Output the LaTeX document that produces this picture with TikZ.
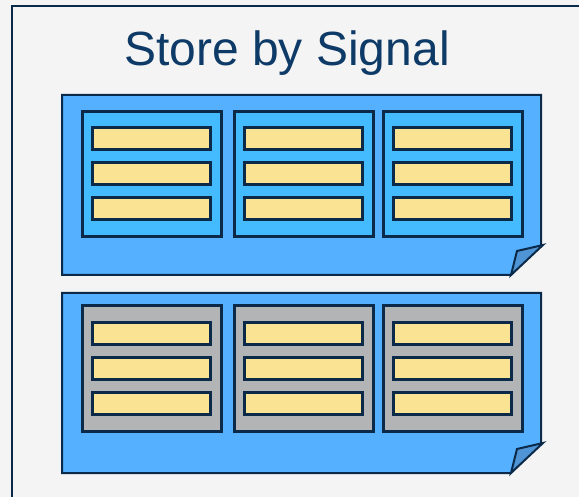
\documentclass[tikz,border=0pt]{standalone}
\usepackage{fontspec}
\setmainfont{Liberation Sans}
\definecolor{navy}{HTML}{0B2A4A}
\definecolor{titleblue}{HTML}{0D3A66}
\definecolor{folderblue}{HTML}{55B0FF}
\definecolor{panelblue}{HTML}{45BBFF}
\definecolor{flapblue}{HTML}{4F94D4}
\definecolor{slotyellow}{HTML}{FAE493}
\definecolor{panelgray}{HTML}{B3B4B6}
\definecolor{paper}{HTML}{F4F4F4}
\tikzset{
  folder/.style={draw=navy, fill=folderblue, line width=2pt, line join=miter},
  flap/.style={draw=navy, fill=flapblue, line width=2pt, line join=miter},
  panel/.style={draw=navy, line width=3pt, rectangle, minimum width=139pt, minimum height=125pt, inner sep=0pt},
  slot/.style={draw=navy, fill=slotyellow, line width=3pt, rectangle, minimum width=118pt, minimum height=22pt, inner sep=0pt}
}

\begin{document}
\begin{tikzpicture}[x=1pt, y=-1pt]
\useasboundingbox (0,0) rectangle (579,497);
\fill [paper] (0,0) rectangle (579,497);
\draw [navy, line width=2pt] (12,497) -- (12,6) -- (579,6);
\node[titleblue, anchor=base, font=\fontsize{48}{58}\selectfont] (title) at (287,66) {Store by Signal};
\foreach \y/\o/\f/\n in {95/79/panelblue/top, 293/75.5/panelgray/bot} {
  \filldraw [folder] (62,\y) -- (541,\y) -- (541,\y+150) -- (511,\y+180) -- (62,\y+180) -- cycle;
  \filldraw [flap] (511,\y+180) -- (517,\y+156) -- (543,\y+150) -- cycle;
  \foreach \x [count=\i] in {151.5,303.5,452.5} {
    \node[panel, fill=\f] (\n-\i) at (\x,\y+\o) {};
    \foreach \d [count=\j] in {-35,0,35}
      \node[slot] (\n-\i-\j) at ([yshift=-\d pt]\n-\i.center) {};
  }
}
\end{tikzpicture}
\end{document}
